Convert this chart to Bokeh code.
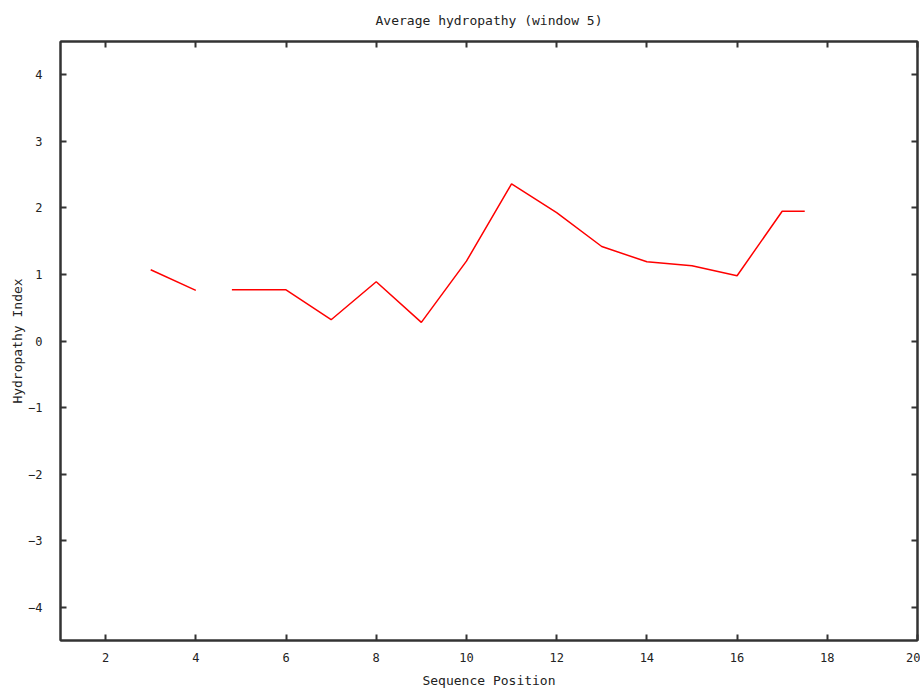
from bokeh.plotting import figure
from bokeh.models import LinearAxis, FixedTicker, Range1d
from bokeh.embed import file_html
from bokeh.resources import INLINE

# Data (window-5 hydropathy averages)
pos_a = [3, 4]
val_a = [1.07, 0.76]
pos_b = [4.8, 5, 6, 7, 8, 9, 10, 11, 12, 13, 14, 15, 16, 17, 17.5]
val_b = [0.77, 0.77, 0.77, 0.32, 0.89, 0.28, 1.20, 2.36, 1.93, 1.42, 1.19, 1.13, 0.98, 1.95, 1.95]

x_ticks = [2, 4, 6, 8, 10, 12, 14, 16, 18, 20]
y_ticks = [-4, -3, -2, -1, 0, 1, 2, 3, 4]

FONT = "DejaVu Sans Mono"

p = figure(frame_width=857, frame_height=599, output_backend="svg", toolbar_location=None,
           x_range=Range1d(1, 20), y_range=Range1d(-4.5, 4.5),
           min_border_left=60, min_border_right=3, min_border_top=40, min_border_bottom=30)

p.title.text = "Average hydropathy (window 5)"
p.title.align = "center"
p.title.vertical_align = "top"
p.title.text_font = FONT
p.title.text_font_size = "13px"
p.title.text_font_style = "normal"
p.title.text_color = "#222222"
p.title.standoff = 24

p.xgrid.visible = False
p.ygrid.visible = False
p.outline_line_color = "#333333"
p.outline_line_width = 2
p.outline_line_alpha = 1.0

def style(ax):
    ax.minor_tick_line_color = None
    ax.major_tick_in = 6
    ax.major_tick_out = 0
    ax.major_tick_line_color = "#333333"
    ax.major_tick_line_width = 2
    ax.axis_line_color = "#333333"
    ax.axis_line_width = 2
    ax.major_label_text_font = FONT
    ax.major_label_text_color = "#222222"
    ax.major_label_text_font_size = "12px"
    ax.axis_label_text_font = FONT
    ax.axis_label_text_color = "#222222"
    ax.axis_label_text_font_style = "normal"
    ax.axis_label_text_font_size = "13px"

xa = p.xaxis[0]
style(xa)
xa.ticker = FixedTicker(ticks=x_ticks)
xa.axis_label = "Sequence Position"
xa.major_label_standoff = 12
xa.axis_label_standoff = 8

ya = p.yaxis[0]
style(ya)
ya.ticker = FixedTicker(ticks=y_ticks)
ya.axis_label = "Hydropathy Index"
ya.major_label_standoff = 18
ya.axis_label_standoff = 0

# Mirror ticks on top and right (gnuplot style), drawn as unlabeled minor ticks
def mirror(ticks):
    ax = LinearAxis(ticker=FixedTicker(ticks=[], minor_ticks=ticks))
    ax.major_tick_line_color = None
    ax.minor_tick_in = 6
    ax.minor_tick_out = 0
    ax.minor_tick_line_color = "#333333"
    ax.minor_tick_line_width = 2
    ax.axis_line_color = "#333333"
    ax.axis_line_width = 2
    ax.major_label_standoff = 0
    return ax

p.add_layout(mirror(x_ticks), "above")
p.add_layout(mirror(y_ticks), "right")

p.line(pos_a, val_a, line_color="#ff0000", line_width=1.5)
p.line(pos_b, val_b, line_color="#ff0000", line_width=1.5)

open("out.html", "w").write(file_html(p, INLINE))
